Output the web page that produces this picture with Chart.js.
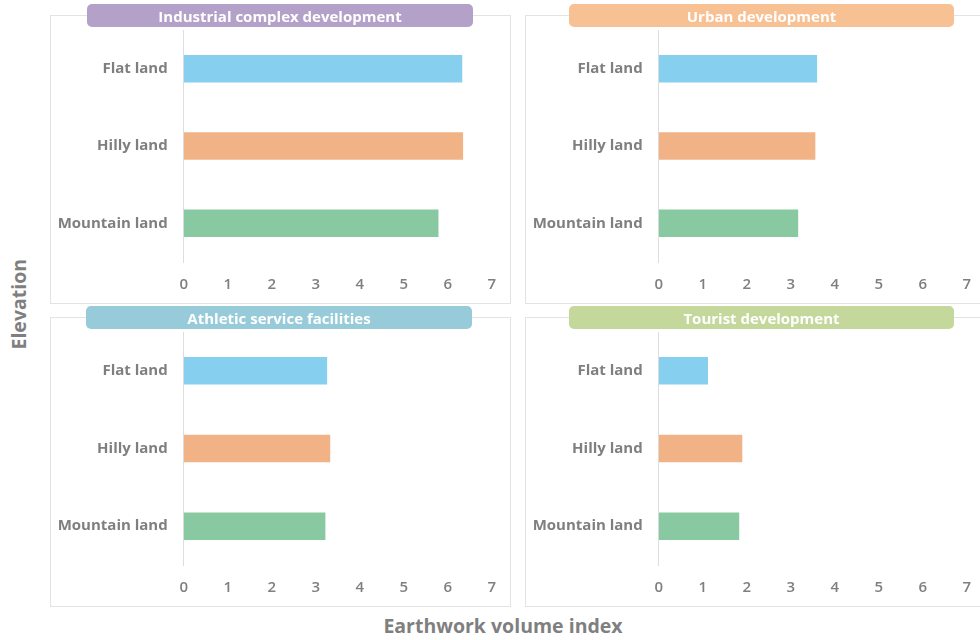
<!DOCTYPE html>
<html lang="en">
<head>
<meta charset="UTF-8">
<title>Earthwork volume index by elevation</title>
<script src="https://cdn.jsdelivr.net/npm/chart.js"></script>
<style>
    html, body {
        margin: 0;
        padding: 0;
        background: #fff;
        width: 980px;
        height: 640px;
        overflow: hidden;
        font-family: "Open Sans", "Noto Sans", sans-serif;
    }
    .panel {
        position: absolute;
        border: 1px solid #e3e3e3;
        box-sizing: border-box;
    }
    .panel canvas {
        position: absolute;
        left: 0;
        top: 0;
    }
    .pill {
        position: absolute;
        height: 23px;
        border-radius: 5px;
        color: #fff;
        font-weight: 700;
        font-size: 15px;
        line-height: 24px;
        text-align: center;
    }
    .axis-title {
        position: absolute;
        color: #7f7f7f;
        font-weight: 700;
        font-size: 19.5px;
        white-space: nowrap;
    }
</style>
</head>
<body>
<div class="panel" style="left:50px; top:15px; width:461px; height:289px;"><canvas id="c1"></canvas></div>
<div class="panel" style="left:525px; top:15px; width:461px; height:289px;"><canvas id="c2"></canvas></div>
<div class="panel" style="left:50px; top:317px; width:461px; height:290px;"><canvas id="c3"></canvas></div>
<div class="panel" style="left:525px; top:317px; width:461px; height:290px;"><canvas id="c4"></canvas></div>

<div class="pill" style="left:87px; top:4px; width:386px; background:#b4a1c9;">Industrial complex development</div>
<div class="pill" style="left:569px; top:4px; width:385px; background:#f8c193;">Urban development</div>
<div class="pill" style="left:86px; top:306px; width:386px; background:#97cbd9;">Athletic service facilities</div>
<div class="pill" style="left:569px; top:306px; width:385px; background:#c4d89c;">Tourist development</div>

<div class="axis-title" style="left:-22px; top:296px; transform:rotate(-90deg); width:80px; text-align:center;">Elevation</div>
<div class="axis-title" style="left:0; width:1006px; top:612px; text-align:center;">Earthwork volume index</div>

<script>
    const categories = ['Flat land', 'Hilly land', 'Mountain land'];
    const xTicks = [0, 1, 2, 3, 4, 5, 6, 7];

    const industrial = [6.33, 6.35, 5.79];
    const urban = [3.60, 3.56, 3.17];
    const athletic = [3.26, 3.33, 3.22];
    const tourist = [1.12, 1.90, 1.83];

    const barColors = ['#87cfee', '#f1b386', '#89c9a2'];
    const textGrey = '#7f7f7f';

    function drawPanel(canvasId, values) {
        const canvas = document.getElementById(canvasId);
        const box = canvas.parentElement;
        canvas.width = box.clientWidth;
        canvas.height = box.clientHeight;

        new Chart(canvas, {
            type: 'bar',
            data: {
                labels: categories,
                datasets: [{
                    data: values,
                    backgroundColor: barColors,
                    borderWidth: 0,
                    categoryPercentage: 1,
                    barPercentage: 0.355
                }]
            },
            options: {
                indexAxis: 'y',
                responsive: false,
                animation: false,
                events: [],
                layout: { padding: { top: 14, right: 18, bottom: 0, left: 0 } },
                plugins: {
                    legend: { display: false },
                    tooltip: { enabled: false }
                },
                scales: {
                    x: {
                        min: xTicks[0],
                        max: xTicks[xTicks.length - 1],
                        afterBuildTicks: axis => {
                            axis.ticks = xTicks.map(v => ({ value: v }));
                        },
                        afterFit: axis => { axis.height = 41; },
                        grid: { display: false, drawTicks: false },
                        border: { display: false },
                        ticks: {
                            color: textGrey,
                            padding: 14,
                            maxRotation: 0,
                            font: { family: '"Open Sans", sans-serif', size: 15, weight: '600' }
                        }
                    },
                    y: {
                        // fixed label column; drop the label overhang so the plot starts at the top padding
                        afterFit: axis => {
                            axis.width = 132.7;
                            axis.paddingTop = 0;
                            axis.paddingBottom = 0;
                        },
                        grid: { display: false, drawTicks: false },
                        border: { display: true, color: '#dedede', width: 1 },
                        ticks: {
                            color: textGrey,
                            padding: 16,
                            font: { family: '"Open Sans", sans-serif', size: 15, weight: '700' }
                        }
                    }
                }
            }
        });
    }

    drawPanel('c1', industrial);
    drawPanel('c2', urban);
    drawPanel('c3', athletic);
    drawPanel('c4', tourist);
</script>
</body>
</html>
